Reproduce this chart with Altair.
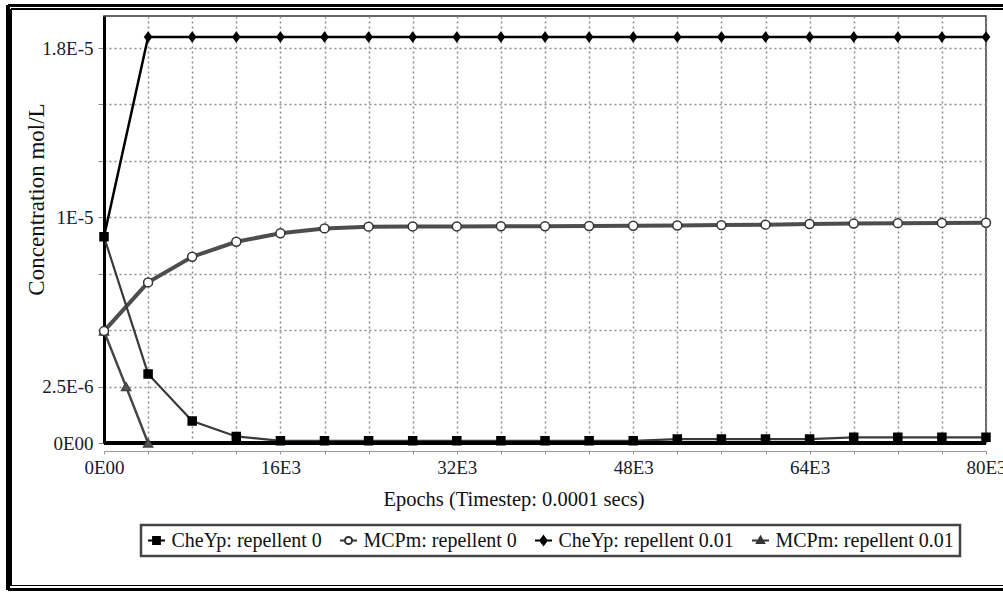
import altair as alt
import pandas as pd

# ---------------- data ----------------
series_names = ["CheYp: repellent 0", "MCPm: repellent 0",
                "CheYp: repellent 0.01", "MCPm: repellent 0.01"]

x_epochs = [0, 4000, 8000, 12000, 16000, 20000, 24000, 28000, 32000, 36000, 40000,
            44000, 48000, 52000, 56000, 60000, 64000, 68000, 72000, 76000, 80000]
x_epochs_mcpm_rep = [0, 2000, 4000, 8000, 12000, 16000, 20000, 24000, 28000, 32000, 36000,
                     40000, 44000, 48000, 52000, 56000, 60000, 64000, 68000, 72000, 76000, 80000]

cheyp_rep0 = [9.4e-6, 3.15e-6, 1.0e-6, 0.3e-6, 0.1e-6, 0.1e-6, 0.1e-6, 0.1e-6, 0.1e-6,
              0.1e-6, 0.1e-6, 0.1e-6, 0.1e-6, 0.18e-6, 0.18e-6, 0.18e-6, 0.18e-6,
              0.26e-6, 0.26e-6, 0.26e-6, 0.26e-6]
mcpm_rep0 = [5.1e-6, 7.32e-6, 8.49e-6, 9.17e-6, 9.56e-6, 9.78e-6, 9.86e-6, 9.87e-6, 9.87e-6,
             9.88e-6, 9.88e-6, 9.89e-6, 9.9e-6, 9.91e-6, 9.93e-6, 9.95e-6, 9.98e-6,
             10.0e-6, 10.02e-6, 10.03e-6, 10.04e-6]
cheyp_rep001 = [9.4e-6, 1.85e-5, 1.85e-5, 1.85e-5, 1.85e-5, 1.85e-5, 1.85e-5, 1.85e-5, 1.85e-5,
                1.85e-5, 1.85e-5, 1.85e-5, 1.85e-5, 1.85e-5, 1.85e-5, 1.85e-5, 1.85e-5,
                1.85e-5, 1.85e-5, 1.85e-5, 1.85e-5]
mcpm_rep001 = [5.1e-6, 2.57e-6, 0.0, 0.0, 0.0, 0.0, 0.0, 0.0, 0.0, 0.0, 0.0,
               0.0, 0.0, 0.0, 0.0, 0.0, 0.0, 0.0, 0.0, 0.0, 0.0, 0.0]

x_tick_values = [0, 4000, 8000, 12000, 16000, 20000, 24000, 28000, 32000, 36000, 40000,
                 44000, 48000, 52000, 56000, 60000, 64000, 68000, 72000, 76000, 80000]
x_tick_labels = {0: "0E00", 16000: "16E3", 32000: "32E3", 48000: "48E3",
                 64000: "64E3", 80000: "80E3"}
y_tick_values = [0.0, 2.5714e-6, 5.1429e-6, 7.7143e-6, 1.02857e-5, 1.28571e-5, 1.54286e-5, 1.8e-5]
y_tick_labels = ["0E00", "2.5E-6", "", "", "1E-5", "", "", "1.8E-5"]

rows = []
for name, xs, ys in [(series_names[0], x_epochs, cheyp_rep0),
                     (series_names[1], x_epochs, mcpm_rep0),
                     (series_names[2], x_epochs, cheyp_rep001),
                     (series_names[3], x_epochs_mcpm_rep, mcpm_rep001)]:
    for xv, yv in zip(xs, ys):
        rows.append({"series": name, "x": xv, "y": yv})
df = pd.DataFrame(rows)

# ---------------- styles ----------------
FONT = "'Liberation Serif', 'Times New Roman', 'DejaVu Serif', serif"
diamond_path = "M0,-1L0.75,0L0,1L-0.75,0Z"
styles = {
    series_names[0]: dict(line="#3a3a3a", lw=2.2, shape="square", size=64, fill="#000", stroke="#000"),
    series_names[1]: dict(line="#4d4d4d", lw=4, shape="circle", size=80, fill="#fff", stroke="#333"),
    series_names[2]: dict(line="#000", lw=2.5, shape=diamond_path, size=81, fill="#000", stroke="#000"),
    series_names[3]: dict(line="#454545", lw=2.5, shape="triangle-up", size=81, fill="#555", stroke="#444"),
}
legend_paths = [
    "M-1,0H1M-0.4,-0.4H0.4V0.4H-0.4Z",
    "M-1,0H-0.42M0.42,0H1M0.42,0A0.42,0.42 0 1 1 -0.42,0A0.42,0.42 0 1 1 0.42,0Z",
    "M-1,0H1M0,-0.5L0.38,0L0,0.5L-0.38,0Z",
    "M-1,0H1M0,-0.45L0.42,0.3H-0.42Z",
]
legend_fills = ["#000", "#fff", "#000", "#444"]
legend_strokes = ["#000", "#333", "#000", "#333"]


def build_expr(pairs, default="''"):
    expr = default
    for v, lab in reversed(pairs):
        expr = f"abs(datum.value - {v}) < 1e-9 ? '{lab}' : ({expr})"
    return expr


x_label_expr = build_expr(list(x_tick_labels.items()))
y_label_expr = build_expr([(v, l) for v, l in zip(y_tick_values, y_tick_labels) if l])

x_enc = alt.X("x:Q", scale=alt.Scale(domain=[0, 80000], nice=False, zero=False),
              axis=alt.Axis(values=x_tick_values, labelExpr=x_label_expr,
                            title="Epochs (Timestep: 0.0001 secs)", offset=8,
                            domainColor="#999", domainWidth=1, tickColor="#999", tickSize=3,
                            labelPadding=4, labelFlush=False, labelOverlap=False,
                            titleFontSize=20.5, titleX=409.5, titleY=54,
                            titleAlign="center", titleBaseline="alphabetic"))
y_enc = alt.Y("y:Q", scale=alt.Scale(domain=[0, 1.946e-5], nice=False),
              axis=alt.Axis(values=y_tick_values, labelExpr=y_label_expr,
                            title="Concentration mol/L", domainColor="#000", domainWidth=3,
                            tickColor="#888", tickSize=6, labelPadding=5, labelOverlap=False,
                            titleFontSize=23, titleX=-68, titleY=183, titleAngle=270,
                            titleAlign="center", titleBaseline="middle"))

base = alt.Chart(df)
layers = []
# lines
for name in [series_names[3], series_names[1], series_names[0], series_names[2]]:
    st = styles[name]
    layers.append(base.transform_filter(alt.datum.series == name)
                  .mark_line(color=st["line"], strokeWidth=st["lw"])
                  .encode(x=x_enc, y=y_enc))
# bottom thick axis line
layers.append(alt.Chart(df).mark_rule(color="#000", strokeWidth=3)
              .encode(y=alt.datum(0)))
# markers
for name in [series_names[3], series_names[1], series_names[0], series_names[2]]:
    st = styles[name]
    ch = base.transform_filter(alt.datum.series == name)
    if name == series_names[3]:
        ch = ch.transform_filter(alt.datum.x <= 4000)
    layers.append(ch.mark_point(shape=st["shape"], size=st["size"], filled=True,
                                fill=st["fill"], stroke=st["stroke"], strokeWidth=1.5,
                                opacity=1)
                  .encode(x=x_enc, y=y_enc))

# legend-only layer
leg = alt.Legend(title=None, orient="none", legendX=37, legendY=509, direction="horizontal",
                 columnPadding=13, padding=5.5, labelOffset=5, symbolSize=289, labelLimit=400,
                 symbolStrokeWidth=2, labelFont=FONT, labelFontSize=20, labelColor="#111",
                 strokeColor="#444", fillColor="#fff")
layers.append(
    base.transform_filter("false")
    .mark_point(filled=True, opacity=1, strokeWidth=2)
    .encode(
        x=x_enc, y=y_enc,
        shape=alt.Shape("series:N", scale=alt.Scale(domain=series_names, range=legend_paths), legend=leg),
        fill=alt.Fill("series:N", scale=alt.Scale(domain=series_names, range=legend_fills), legend=leg),
        stroke=alt.Stroke("series:N", scale=alt.Scale(domain=series_names, range=legend_strokes), legend=leg),
    )
)

# outer double frame (decoration)
frame = []
for xv, w in [(-96, 2.5), (-93, 1.2)]:
    frame.append(alt.Chart(df).mark_rule(color="#000", strokeWidth=w)
                 .encode(x=alt.value(xv), y=alt.value(-10.5 if w > 2 else -7),
                         y2=alt.value(573.5 if w > 2 else 569.5)))
for yv, w, x0 in [(-10.5, 2.2, -96), (-7, 1.2, -93), (573.5, 2.2, -96), (569.5, 1.2, -93)]:
    frame.append(alt.Chart(df).mark_rule(color="#000", strokeWidth=w)
                 .encode(y=alt.value(yv), x=alt.value(x0), x2=alt.value(910)))

chart = alt.layer(*layers, *frame).properties(
    width=882, height=427,
    autosize=alt.AutoSizeParams(type="none"),
    padding={"left": 104, "top": 16, "right": 17, "bottom": 149},
    background="#fff",
).configure_view(stroke="#333", strokeWidth=1.5).configure_axis(
    labelFont=FONT, titleFont=FONT, labelFontSize=19, labelColor="#1a1a2a",
    titleColor="#111", titleFontWeight="normal",
    gridColor="#8c8c8c", gridDash=[2, 3], gridWidth=1.5,
).configure_legend(strokeWidth=2.5)

chart.save("out.html", embed_options={"renderer": "svg", "actions": False})
